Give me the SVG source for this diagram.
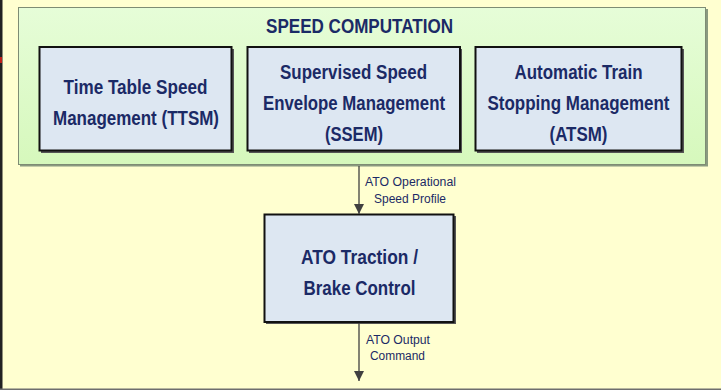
<svg xmlns="http://www.w3.org/2000/svg" width="721" height="390" viewBox="0 0 721 390">
  <defs>
    <linearGradient id="greenFill" x1="0" y1="0" x2="0" y2="1">
      <stop offset="0" stop-color="#E6FDD8"/>
      <stop offset="1" stop-color="#D6F8BC"/>
    </linearGradient>
    <marker id="arrowHead" viewBox="0 0 10 10" refX="10" refY="5" markerWidth="10" markerHeight="10" markerUnits="userSpaceOnUse" orient="auto">
      <path d="M0,0 L10,5 L0,10 Z" fill="#404040"/>
    </marker>
  </defs>
  <style>
    .node-box { fill: #DDE7F2; stroke: #111111; stroke-width: 2; }
    .node-shadow { fill: #555555; }
    .node-text { font-family: "Liberation Sans", Arial, sans-serif; font-weight: bold; font-size: 19.5px; fill: #1B2A66; text-anchor: middle; }
    .edge { stroke: #404040; stroke-width: 1.3; fill: none; marker-end: url(#arrowHead); }
    .edge-label { font-family: "Liberation Sans", Arial, sans-serif; font-size: 12.5px; fill: #1B2A66; text-anchor: middle; }
  </style>

  <!-- page background -->
  <rect x="0" y="0" width="721" height="390" fill="#FFFFD0"/>
  <rect x="0" y="0" width="2.5" height="390" fill="#222222"/>
  <rect x="0" y="57" width="2" height="6" fill="#C0201A"/>
  <rect x="0" y="388.5" width="721" height="1.5" fill="#6E6E6E"/>

  <!-- speed computation container -->
  <g id="speed-computation">
    <rect x="20" y="9" width="688" height="157.5" fill="#8A9A80"/>
    <rect x="18.5" y="7.5" width="687" height="157" fill="url(#greenFill)" stroke="#7E8C74" stroke-width="1"/>
    <text class="node-text" x="359.5" y="32.5" font-size="20px" textLength="187" lengthAdjust="spacingAndGlyphs">SPEED COMPUTATION</text>
  </g>

  <g id="ttsm">
    <rect class="node-shadow" x="41" y="49" width="193" height="104"/>
    <rect class="node-box" x="39.5" y="47" width="192" height="103.5"/>
    <text class="node-text" x="135.5" y="94" textLength="144" lengthAdjust="spacingAndGlyphs">Time Table Speed</text>
    <text class="node-text" x="136" y="124.5" textLength="166" lengthAdjust="spacingAndGlyphs">Management (TTSM)</text>
  </g>

  <g id="ssem">
    <rect class="node-shadow" x="249" y="49" width="213" height="104"/>
    <rect class="node-box" x="247.5" y="47" width="212.5" height="103.5"/>
    <text class="node-text" x="353.5" y="79" textLength="147" lengthAdjust="spacingAndGlyphs">Supervised Speed</text>
    <text class="node-text" x="354" y="110" textLength="182" lengthAdjust="spacingAndGlyphs">Envelope Management</text>
    <text class="node-text" x="354" y="141" textLength="58" lengthAdjust="spacingAndGlyphs">(SSEM)</text>
  </g>

  <g id="atsm">
    <rect class="node-shadow" x="477" y="49" width="207" height="104"/>
    <rect class="node-box" x="475.5" y="47" width="206" height="103.5"/>
    <text class="node-text" x="578.5" y="79" textLength="128" lengthAdjust="spacingAndGlyphs">Automatic Train</text>
    <text class="node-text" x="578.5" y="110" textLength="182" lengthAdjust="spacingAndGlyphs">Stopping Management</text>
    <text class="node-text" x="578.5" y="141" textLength="58" lengthAdjust="spacingAndGlyphs">(ATSM)</text>
  </g>

  <g id="traction-brake">
    <rect class="node-shadow" x="266" y="216" width="190" height="108"/>
    <rect class="node-box" x="264.5" y="214.5" width="189" height="107.5"/>
    <text class="node-text" x="359.5" y="263.5" textLength="117" lengthAdjust="spacingAndGlyphs">ATO Traction /</text>
    <text class="node-text" x="359.5" y="294.5" textLength="112" lengthAdjust="spacingAndGlyphs">Brake Control</text>
  </g>

  <g id="connectors">
    <line class="edge" x1="359" y1="166" x2="359" y2="214"/>
    <text class="edge-label" x="410.5" y="186" textLength="91" lengthAdjust="spacingAndGlyphs">ATO Operational</text>
    <text class="edge-label" x="410" y="202.5" textLength="72" lengthAdjust="spacingAndGlyphs">Speed Profile</text>
    <line class="edge" x1="359" y1="323" x2="359" y2="381"/>
    <text class="edge-label" x="398" y="343.5" textLength="64" lengthAdjust="spacingAndGlyphs">ATO Output</text>
    <text class="edge-label" x="397.5" y="360" textLength="55" lengthAdjust="spacingAndGlyphs">Command</text>
  </g>
</svg>
